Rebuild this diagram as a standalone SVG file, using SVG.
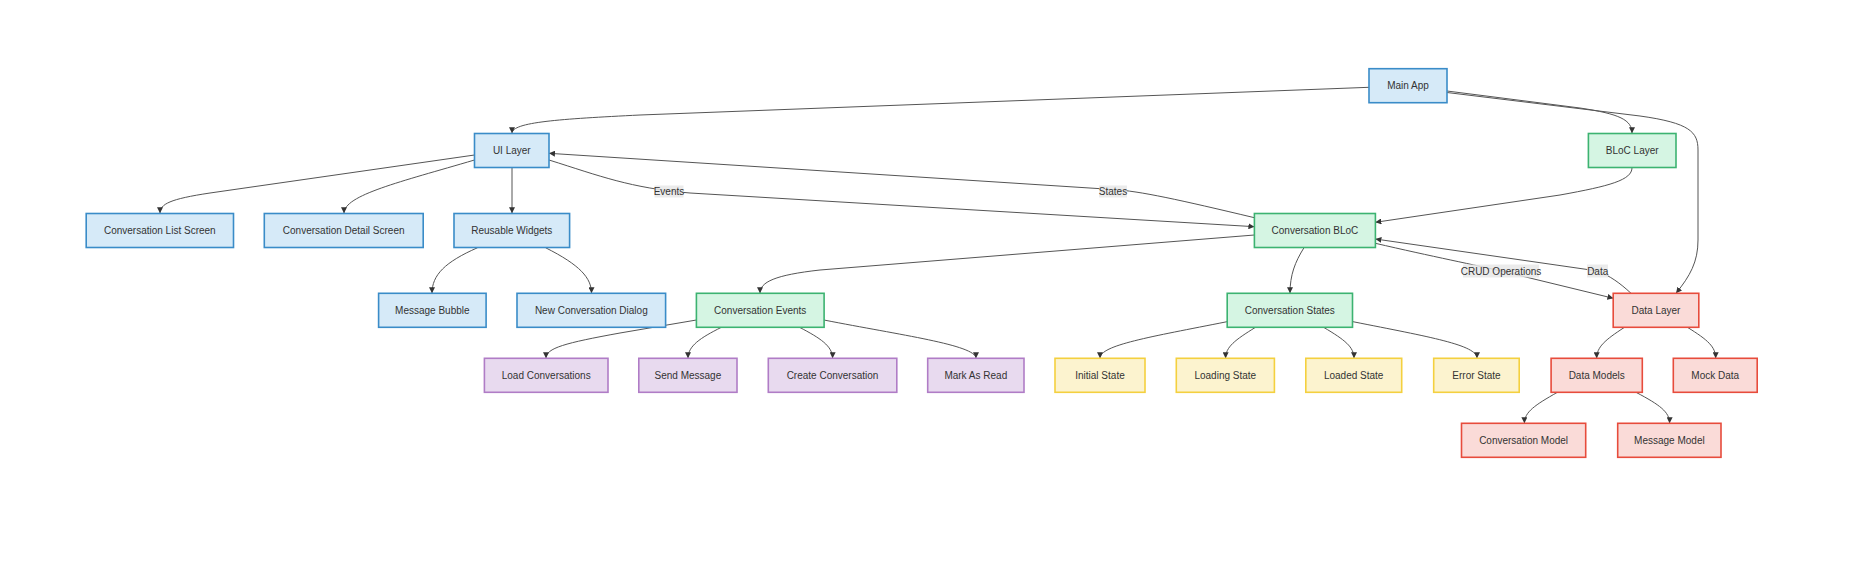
<svg xmlns="http://www.w3.org/2000/svg" width="1872" height="573" viewBox="0 0 1872 573">
<style>
.n rect{stroke-width:1.6}
.n text{font-family:"Liberation Sans",Arial,sans-serif;font-size:10px;fill:#333;text-anchor:middle;dominant-baseline:central}
.blue rect{fill:#d6eaf8;stroke:#3a8cc8}
.green rect{fill:#d5f5e3;stroke:#3cb371}
.red rect{fill:#fadbd8;stroke:#e74c3c}
.purple rect{fill:#e8daef;stroke:#b07cc6}
.yellow rect{fill:#fcf3cf;stroke:#f4d03f}
#edges path{fill:none;stroke:#555;stroke-width:1;marker-end:url(#arr)}
.lbl rect{fill:#e8e8e8;opacity:0.85}
.lbl text{font-family:"Liberation Sans",Arial,sans-serif;font-size:10px;fill:#333;text-anchor:middle;dominant-baseline:central}
</style>
<defs>
<marker id="arr" viewBox="0 0 10 10" refX="10" refY="5" markerWidth="6" markerHeight="6" orient="auto" markerUnits="userSpaceOnUse">
<path d="M0,0 L10,5 L0,10 z" fill="#333"/>
</marker>
</defs>
<rect width="1872" height="573" fill="#fff"/>
<g id="edges">
<path d="M1369,87.3 L640,115 C560,119 512,122 512,133.3"/>
<path d="M1447,91 L1580,108 C1620,114 1632,120 1632,133.3"/>
<path d="M1447,92.5 L1640,116 C1690,123 1698,132 1698,150 L1698,240 C1698,262 1690,276 1676,293.3"/>
<path d="M474.5,155 L210,193 C170,199 160,204 160,213.3"/>
<path d="M474.5,160 C400,182 344,195 344,213.3"/>
<path d="M512,167.7 L512,213.3"/>
<path d="M549,160 C600,176 630,188 690,193 L1254.4,226.7"/>
<path d="M1254.4,217.7 C1180,200 1140,191 1113,189.5 L549,153.3"/>
<path d="M1632,167.7 C1632,180 1610,186 1560,195 L1375.4,222.3"/>
<path d="M1254.4,235 L820,270 C775,275 760,282 760,293.3"/>
<path d="M1304,247.7 C1295,262 1290,275 1290,293.3"/>
<path d="M1375.4,243.3 C1430,256 1480,266 1501,271 L1613.4,298.3"/>
<path d="M1631,293.3 C1620,283 1610,276 1597.7,271 L1375.4,239"/>
<path d="M477.6,247.7 C445,262 432,275 432,293.3"/>
<path d="M545.5,247.7 C580,265 591.5,278 591.5,293.3"/>
<path d="M696.4,320 L620,333 C565,343 546,348 546,358.3"/>
<path d="M721.4,327.3 C700,338 688,346 688,358.3"/>
<path d="M799.5,327.3 C820,338 832.6,346 832.6,358.3"/>
<path d="M824,320 C900,335 976,345 976,358.3"/>
<path d="M1227,321.7 C1150,337 1100,345 1100,358.3"/>
<path d="M1255.5,327.3 C1235,340 1225.6,347 1225.6,358.3"/>
<path d="M1323.6,327.3 C1345,340 1354,347 1354,358.3"/>
<path d="M1353,321.7 C1430,337 1477,345 1477,358.3"/>
<path d="M1624.5,327.3 C1605,340 1596.7,347 1596.7,358.3"/>
<path d="M1687.4,327.3 C1708,340 1715.7,347 1715.7,358.3"/>
<path d="M1557.4,392.3 C1535,405 1524.4,412 1524.4,423.3"/>
<path d="M1636,392.3 C1660,405 1669.6,412 1669.6,423.3"/>
<g class="lbl"><rect x="654.5" y="185.5" width="29" height="12"/><text x="669" y="191.5">Events</text></g>
<g class="lbl"><rect x="1099" y="185.5" width="28" height="12"/><text x="1113" y="191.5">States</text></g>
<g class="lbl"><rect x="1463" y="264.5" width="76" height="13"/><text x="1501" y="271">CRUD Operations</text></g>
<g class="lbl"><rect x="1587" y="264.5" width="21" height="13"/><text x="1597.7" y="271">Data</text></g>
</g>
<g id="main_app" class="n blue"><rect x="1369" y="68.7" width="78" height="34"/><text x="1408" y="85.7">Main App</text></g>
<g id="ui_layer" class="n blue"><rect x="474.5" y="133.5" width="74.5" height="34"/><text x="511.8" y="150.5">UI Layer</text></g>
<g id="bloc_layer" class="n green"><rect x="1588.4" y="133.5" width="87.6" height="34"/><text x="1632.2" y="150.5">BLoC Layer</text></g>
<g id="data_layer" class="n red"><rect x="1613.2" y="293.3" width="85.6" height="34"/><text x="1656" y="310.3">Data Layer</text></g>
<g id="conv_list_screen" class="n blue"><rect x="86.2" y="213.5" width="147.3" height="34"/><text x="159.8" y="230.5">Conversation List Screen</text></g>
<g id="conv_detail_screen" class="n blue"><rect x="264.3" y="213.5" width="158.9" height="34"/><text x="343.7" y="230.5">Conversation Detail Screen</text></g>
<g id="reusable_widgets" class="n blue"><rect x="454" y="213.5" width="115.6" height="34"/><text x="511.8" y="230.5">Reusable Widgets</text></g>
<g id="conv_bloc" class="n green"><rect x="1254.4" y="213.5" width="121" height="34"/><text x="1314.9" y="230.5">Conversation BLoC</text></g>
<g id="message_bubble" class="n blue"><rect x="378.6" y="293.3" width="107.5" height="34"/><text x="432.3" y="310.3">Message Bubble</text></g>
<g id="new_conv_dialog" class="n blue"><rect x="517" y="293.3" width="148.6" height="34"/><text x="591.3" y="310.3">New Conversation Dialog</text></g>
<g id="conv_events" class="n green"><rect x="696.4" y="293.3" width="127.7" height="34"/><text x="760.2" y="310.3">Conversation Events</text></g>
<g id="conv_states" class="n green"><rect x="1227.2" y="293.3" width="125.3" height="34"/><text x="1289.8" y="310.3">Conversation States</text></g>
<g id="load_conversations" class="n purple"><rect x="484.4" y="358.3" width="123.6" height="34"/><text x="546.2" y="375.3">Load Conversations</text></g>
<g id="send_message" class="n purple"><rect x="638.8" y="358.3" width="98.2" height="34"/><text x="687.9" y="375.3">Send Message</text></g>
<g id="create_conversation" class="n purple"><rect x="768.3" y="358.3" width="128.5" height="34"/><text x="832.5" y="375.3">Create Conversation</text></g>
<g id="mark_as_read" class="n purple"><rect x="927.7" y="358.3" width="96.3" height="34"/><text x="975.8" y="375.3">Mark As Read</text></g>
<g id="initial_state" class="n yellow"><rect x="1055" y="358.3" width="90" height="34"/><text x="1100" y="375.3">Initial State</text></g>
<g id="loading_state" class="n yellow"><rect x="1176.3" y="358.3" width="98.1" height="34"/><text x="1225.3" y="375.3">Loading State</text></g>
<g id="loaded_state" class="n yellow"><rect x="1305.8" y="358.3" width="95.9" height="34"/><text x="1353.7" y="375.3">Loaded State</text></g>
<g id="error_state" class="n yellow"><rect x="1433.7" y="358.3" width="85.5" height="34"/><text x="1476.5" y="375.3">Error State</text></g>
<g id="data_models" class="n red"><rect x="1551.1" y="358.3" width="91.2" height="34"/><text x="1596.7" y="375.3">Data Models</text></g>
<g id="mock_data" class="n red"><rect x="1673.3" y="358.3" width="83.9" height="34"/><text x="1715.2" y="375.3">Mock Data</text></g>
<g id="conv_model" class="n red"><rect x="1461.5" y="423.3" width="124.2" height="34"/><text x="1523.6" y="440.3">Conversation Model</text></g>
<g id="message_model" class="n red"><rect x="1617.7" y="423.3" width="103.3" height="34"/><text x="1669.4" y="440.3">Message Model</text></g>
</svg>
